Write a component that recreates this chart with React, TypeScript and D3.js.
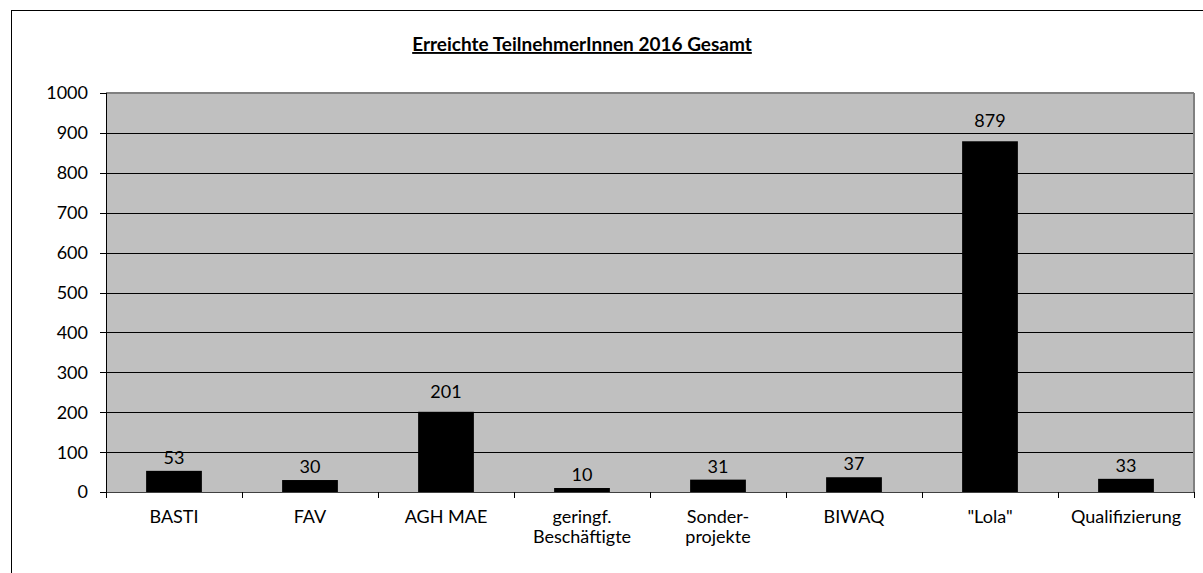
import React from 'react';
import * as d3 from 'd3';

const categories: string[][] = [
  ['BASTI'],
  ['FAV'],
  ['AGH MAE'],
  ['geringf.', 'Beschäftigte'],
  ['Sonder-', 'projekte'],
  ['BIWAQ'],
  ['"Lola"'],
  ['Qualifizierung'],
];
const values: number[] = [53, 30, 201, 10, 31, 37, 879, 33];
const yTicks: number[] = [0, 100, 200, 300, 400, 500, 600, 700, 800, 900, 1000];
const title = 'Erreichte TeilnehmerInnen 2016 Gesamt';

const App: React.FC = () => {
  const W = 1203;
  const H = 573;
  const plot = { left: 106, right: 1194, top: 93, bottom: 492 };
  const font = 'Lato, "Open Sans", sans-serif';
  const fs = 18;

  const keys = categories.map((c) => c.join(' '));
  const xScale = d3.scaleBand<string>().domain(keys).range([plot.left, plot.right]).padding(0);
  const yScale = d3.scaleLinear().domain([0, 1000]).range([plot.bottom, plot.top]);
  const step = xScale.bandwidth();
  const barW = step * 0.41;

  return (
    <svg width={W} height={H} style={{ position: 'absolute', left: 0, top: 0, display: 'block' }}>
      <rect x={0} y={0} width={W} height={H} fill="#fff" />
      {/* outer chart frame */}
      <rect x={11.5} y={10.5} width={1300} height={700} fill="none" stroke="#000" strokeWidth={1} />

      {/* title */}
      <text
        x={582}
        y={51}
        textAnchor="middle"
        fontFamily={font}
        fontWeight="bold"
        fontSize={19}
        fill="#000"
        textDecoration="underline"
      >
        {title}
      </text>

      {/* plot area */}
      <rect
        x={plot.left}
        y={plot.top}
        width={plot.right - plot.left}
        height={plot.bottom - plot.top}
        fill="#c0c0c0"
      />
      {yTicks.slice(1, -1).map((t) => (
        <line
          key={'g' + t}
          x1={plot.left}
          x2={plot.right}
          y1={Math.round(yScale(t)) + 0.5}
          y2={Math.round(yScale(t)) + 0.5}
          stroke="#000"
          strokeWidth={1}
        />
      ))}
      {/* top and right border */}
      <line x1={plot.left} x2={plot.right} y1={plot.top} y2={plot.top} stroke="#808080" strokeWidth={2} />
      <line x1={plot.right} x2={plot.right} y1={plot.top} y2={plot.bottom} stroke="#808080" strokeWidth={2} />

      {/* bars */}
      {values.map((v, i) => {
        const cx = (xScale(keys[i]) as number) + step / 2;
        return (
          <g key={'b' + i}>
            <rect
              x={cx - barW / 2}
              y={yScale(v)}
              width={barW}
              height={plot.bottom - yScale(v)}
              fill="#000"
            />
            <text
              x={cx}
              y={yScale(v) - (v > 100 ? 14 : 7)}
              textAnchor="middle"
              fontFamily={font}
              fontSize={fs}
              fill="#000"
            >
              {v}
            </text>
          </g>
        );
      })}

      {/* y axis */}
      <line x1={plot.left + 0.5} x2={plot.left + 0.5} y1={plot.top} y2={plot.bottom} stroke="#000" />
      {yTicks.map((t) => (
        <g key={'y' + t}>
          <line
            x1={plot.left - 6}
            x2={plot.left}
            y1={Math.round(yScale(t)) + 0.5}
            y2={Math.round(yScale(t)) + 0.5}
            stroke="#000"
          />
          <text
            x={88}
            y={yScale(t)}
            dy="0.36em"
            textAnchor="end"
            fontFamily={font}
            fontSize={fs}
            fill="#000"
          >
            {t}
          </text>
        </g>
      ))}

      {/* x axis */}
      <line x1={plot.left} x2={plot.right} y1={plot.bottom + 0.5} y2={plot.bottom + 0.5} stroke="#404040" />
      {[...keys.map((k) => xScale(k) as number), plot.right].map((x, i) => (
        <line
          key={'xt' + i}
          x1={Math.round(x) + 0.5}
          x2={Math.round(x) + 0.5}
          y1={plot.bottom}
          y2={plot.bottom + 6}
          stroke="#000"
        />
      ))}
      {categories.map((lines, i) => (
        <text
          key={'xl' + i}
          x={(xScale(keys[i]) as number) + step / 2}
          y={523}
          textAnchor="middle"
          fontFamily={font}
          fontSize={fs}
          fill="#000"
        >
          {lines.map((l, j) => (
            <tspan key={j} x={(xScale(keys[i]) as number) + step / 2} dy={j === 0 ? 0 : 20}>
              {l}
            </tspan>
          ))}
        </text>
      ))}
    </svg>
  );
};

export default App;
